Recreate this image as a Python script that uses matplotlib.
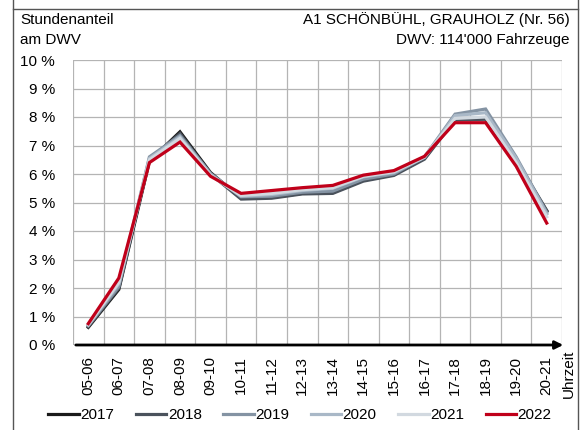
import matplotlib.pyplot as plt
from matplotlib.lines import Line2D

plt.rcParams['font.family'] = ['Liberation Sans', 'DejaVu Sans']

hours = ["05-06", "06-07", "07-08", "08-09", "09-10", "10-11", "11-12", "12-13",
         "13-14", "14-15", "15-16", "16-17", "17-18", "18-19", "19-20", "20-21"]

y2017 = [0.62, 1.95, 6.45, 7.48, 6.05, 5.15, 5.18, 5.32, 5.35, 5.78, 5.98, 6.55, 7.95, 7.95, 6.45, 4.70]
y2018 = [0.65, 2.00, 6.50, 7.42, 6.00, 5.12, 5.15, 5.30, 5.32, 5.75, 5.95, 6.52, 7.90, 7.92, 6.50, 4.72]
y2019 = [0.68, 2.05, 6.60, 7.35, 6.02, 5.20, 5.22, 5.36, 5.40, 5.82, 6.00, 6.60, 8.10, 8.28, 6.60, 4.65]
y2020 = [0.70, 2.15, 6.55, 7.30, 5.98, 5.22, 5.28, 5.42, 5.50, 5.90, 6.05, 6.58, 8.05, 8.15, 6.55, 4.60]
y2021 = [0.72, 2.20, 6.50, 7.25, 5.95, 5.25, 5.32, 5.45, 5.52, 5.92, 6.08, 6.60, 7.95, 8.00, 6.40, 4.50]
y2022 = [0.75, 2.35, 6.40, 7.12, 5.92, 5.32, 5.42, 5.52, 5.60, 5.96, 6.12, 6.62, 7.80, 7.80, 6.27, 4.28]

years = ["2017", "2018", "2019", "2020", "2021", "2022"]
series = [y2017, y2018, y2019, y2020, y2021, y2022]
colors = ["#1a1a1a", "#4a525c", "#8493a3", "#a9b8c7", "#d2d9e0", "#c0001a"]

W, H = 584, 430
fig = plt.figure(figsize=(W / 100, H / 100), dpi=100)
fs = 11

# axes in pixel coords
l, r, t, b = 73, 562, 60, 345
ax = fig.add_axes([l / W, 1 - b / H, (r - l) / W, (b - t) / H])

x = list(range(len(hours)))
for yr, vals, c in zip(years, series, colors):
    ax.plot(x, vals, color=c, lw=2.3, label=yr, solid_joinstyle='miter', zorder=3)

ax.set_xlim(-0.5, len(hours) - 0.5)
ax.set_ylim(0, 10)
ax.set_yticks(range(11))
ax.set_yticklabels([f"{i} %" for i in range(11)])
ax.set_xticks(x)
ax.set_xticklabels(hours, rotation=90)
ax.tick_params(axis='both', length=0, labelsize=fs)
ax.tick_params(axis='y', pad=13)
ax.tick_params(axis='x', pad=8)

for i in range(1, 11):
    ax.axhline(i, color="#b4b4b4", lw=0.9, zorder=1)
for i in range(len(hours) + 1):
    ax.axvline(i - 0.5, color="#b4b4b4", lw=0.9, zorder=1)

for s in ["left", "right", "top", "bottom"]:
    ax.spines[s].set_visible(False)
ax.annotate("", xy=(566 / W, 1 - b / H), xytext=(l / W, 1 - b / H),
            xycoords='figure fraction',
            arrowprops=dict(arrowstyle="-|>", color="black", lw=2, mutation_scale=12))

fig.text(569 / W, 1 - 350 / H, "Uhrzeit", rotation=90, ha='center', va='top', fontsize=fs)

fig.text(20 / W, 1 - 20 / H, "Stundenanteil", ha='left', va='center', fontsize=fs)
fig.text(20 / W, 1 - 40 / H, "am DWV", ha='left', va='center', fontsize=fs)
fig.text(570 / W, 1 - 20 / H, "A1 SCHÖNBÜHL, GRAUHOLZ (Nr. 56)", ha='right', va='center', fontsize=fs)
fig.text(570 / W, 1 - 40 / H, "DWV: 114'000 Fahrzeuge", ha='right', va='center', fontsize=fs)

fig.legend(loc='center', bbox_to_anchor=(300 / W, 1 - 415 / H), ncol=6, frameon=False,
           fontsize=fs, handlelength=2.0, handletextpad=0.1, columnspacing=1.4)

# outer frame
fig.add_artist(Line2D([13 / W, 13 / W], [0, 1], color="#555555", lw=1))
fig.add_artist(Line2D([578 / W, 578 / W], [0, 1], color="#555555", lw=1))
fig.add_artist(Line2D([13 / W, 578 / W], [1 - 9 / H, 1 - 9 / H], color="#555555", lw=1))

fig.savefig("out.png", dpi=100)
